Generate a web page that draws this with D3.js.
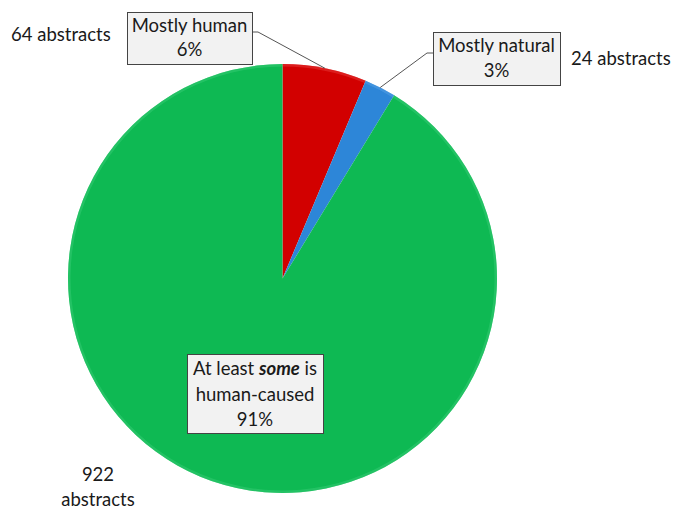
<!DOCTYPE html>
<html><head><meta charset="utf-8">
<script src="https://cdn.jsdelivr.net/npm/d3@7"></script>
<style>body{margin:0;background:#fff}svg{display:block}text{font-family:Lato,"Open Sans",sans-serif;fill:#1a1a1a}</style>
</head><body>
<svg id="c" width="675" height="511"></svg>
<script>
const categories = ["Mostly human", "Mostly natural", "At least some is human-caused"];
const counts = [64, 24, 922];
const percents = ["6%", "3%", "91%"];
const countLabels = ["64 abstracts", "24 abstracts", "922 abstracts"];
const colors = ["#d20000", "#2d86d8", "#0eb953"];
const edgeColors = ["#e84040", "#5aa3e6", "#3fcf7a"];

const svg = d3.select("#c");
const cx = 282.5, cy = 278.5, R = 214.5;
const g = svg.append("g").attr("transform", `translate(${cx},${cy})`);
const pie = d3.pie().sort(null)(counts);
const arc = d3.arc().innerRadius(0).outerRadius(R);
const arcEdge = d3.arc().innerRadius(R - 2.5).outerRadius(R);

g.selectAll("path.s").data(pie).join("path").attr("class","s")
  .attr("d", arc).attr("fill", (d,i)=>colors[i]);
g.selectAll("path.e").data(pie).join("path").attr("class","e")
  .attr("d", arcEdge).attr("fill", (d,i)=>edgeColors[i]).attr("opacity",0.45);

function edgePt(d){ const a=(d.startAngle+d.endAngle)/2; return [cx+Math.sin(a)*R, cy-Math.cos(a)*R]; }
const p0 = edgePt(pie[0]), p1 = edgePt(pie[1]);
svg.append("polyline").attr("points", `252,32 258,32 ${p0[0]},${p0[1]}`).attr("fill","none").attr("stroke","#555").attr("stroke-width",1);
svg.append("polyline").attr("points", `433,53 427,53 ${p1[0]},${p1[1]}`).attr("fill","none").attr("stroke","#555").attr("stroke-width",1);

function box(x,y,w,h){
  svg.append("rect").attr("x",x+0.5).attr("y",y+0.5).attr("width",w).attr("height",h)
    .attr("fill","#f2f2f2").attr("stroke","#444").attr("stroke-width",1);
}
const fs = 18.5;
box(127,12,125,52);
svg.append("text").attr("x",189.5).attr("y",32).attr("text-anchor","middle").attr("font-size",fs).text(categories[0]);
svg.append("text").attr("x",189.5).attr("y",56).attr("text-anchor","middle").attr("font-size",fs).text(percents[0]);

box(433,32,127,53);
svg.append("text").attr("x",496.5).attr("y",52).attr("text-anchor","middle").attr("font-size",fs).text(categories[1]);
svg.append("text").attr("x",496.5).attr("y",77).attr("text-anchor","middle").attr("font-size",fs).text(percents[1]);

box(187,354,136,79);
const t1 = svg.append("text").attr("x",255).attr("y",375).attr("text-anchor","middle").attr("font-size",fs);
t1.append("tspan").text("At least ");
t1.append("tspan").attr("font-weight","bold").attr("font-style","italic").text("some");
t1.append("tspan").text(" is");
svg.append("text").attr("x",255).attr("y",401).attr("text-anchor","middle").attr("font-size",fs).text("human-caused");
svg.append("text").attr("x",255).attr("y",426).attr("text-anchor","middle").attr("font-size",fs).text(percents[2]);

svg.append("text").attr("x",11).attr("y",41).attr("font-size",fs).text(countLabels[0]);
svg.append("text").attr("x",571).attr("y",65).attr("font-size",fs).text(countLabels[1]);
const parts = countLabels[2].split(" ");
svg.append("text").attr("x",98).attr("y",481).attr("text-anchor","middle").attr("font-size",fs).text(parts[0]);
svg.append("text").attr("x",98).attr("y",506).attr("text-anchor","middle").attr("font-size",fs).text(parts[1]);
</script>
</body></html>
